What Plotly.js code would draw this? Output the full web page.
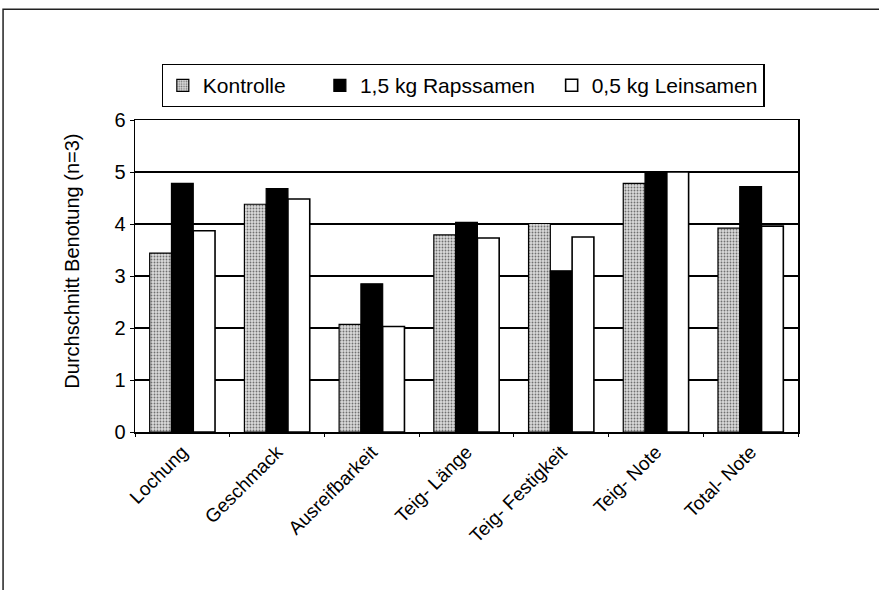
<!DOCTYPE html>
<html>
<head>
<meta charset="utf-8">
<script src="https://cdn.plot.ly/plotly-3.0.1.min.js"></script>
<style>html,body{margin:0;padding:0;background:#fff;}#chart{width:879px;height:590px;}</style>
</head>
<body>
<div id="chart"></div>
<script>
const categories = ["Lochung", "Geschmack", "Ausreifbarkeit", "Teig- Länge", "Teig- Festigkeit", "Teig- Note", "Total- Note"];
const seriesNames = ["Kontrolle", "1,5 kg Rapssamen", "0,5 kg Leinsamen"];
const kontrolle = [3.44, 4.38, 2.07, 3.79, 4.01, 4.78, 3.92];
const rapssamen = [4.78, 4.68, 2.85, 4.03, 3.10, 4.99, 4.72];
const leinsamen = [3.87, 4.48, 2.03, 3.73, 3.75, 5.00, 3.96];
const yTicks = [0, 1, 2, 3, 4, 5, 6];
const yTitle = "Durchschnitt Benotung (n=3)";

const FONT = "Liberation Sans, Arial, sans-serif";
const NB = "\u00a0";
// legend spacing padding (non-breaking spaces) to mimic original item spacing
const legendPad = [NB.repeat(5), NB.repeat(2), ""];

const traces = [
  {
    type: "bar", name: seriesNames[0] + legendPad[0], x: categories, y: kontrolle,
    marker: {
      color: "#c4c4c4",
      pattern: {shape: ".", fgcolor: "#707070", bgcolor: "#dadada", size: 3, solidity: 0.3},
      line: {color: "#000", width: 1.2}
    }
  },
  {
    type: "bar", name: seriesNames[1] + legendPad[1], x: categories, y: rapssamen,
    marker: {color: "#000", line: {color: "#000", width: 1.2}}
  },
  {
    type: "bar", name: seriesNames[2] + legendPad[2], x: categories, y: leinsamen,
    marker: {color: "#fff", line: {color: "#000", width: 1.6}}
  }
];

const layout = {
  width: 879, height: 590,
  margin: {l: 135, r: 81, t: 120, b: 158},
  paper_bgcolor: "#fff", plot_bgcolor: "#fff",
  font: {family: FONT, color: "#000", size: 18},
  barmode: "group", bargap: 0.31, bargroupgap: 0,
  showlegend: true,
  legend: {
    orientation: "h", x: 0.04, y: 1.18, xanchor: "left", yanchor: "top",
    bordercolor: "#000", borderwidth: 1.3, bgcolor: "#fff",
    font: {family: FONT, size: 21, color: "#000"},
    itemwidth: 30, traceorder: "normal"
  },
  xaxis: {
    type: "category", tickangle: -45, showgrid: false,
    showline: true, linecolor: "#000", linewidth: 1.5, mirror: true,
    ticks: "outside", tickson: "boundaries", ticklen: 3, tickcolor: "#000",
    tickfont: {family: FONT, size: 19, color: "#000"}
  },
  yaxis: {
    range: [0, 6], tickvals: yTicks, ticktext: yTicks.map(String),
    showgrid: true, gridcolor: "#000", gridwidth: 1.5,
    showline: true, linecolor: "#000", linewidth: 1.5, mirror: true,
    ticks: "outside", ticklen: 4, tickcolor: "#000", zeroline: false,
    tickfont: {family: FONT, size: 20, color: "#000"}
  },
  annotations: [
    {text: yTitle, xref: "paper", yref: "paper", x: -0.095, y: 0.546, textangle: -90,
     showarrow: false, xanchor: "center", yanchor: "middle",
     font: {family: FONT, size: 20, color: "#000"}}
  ],
  shapes: [
    {type: "rect", xref: "paper", yref: "paper", x0: -0.199, x1: 1.2, y0: -0.7, y1: 1.355,
     line: {color: "#222", width: 1.5}, fillcolor: "rgba(0,0,0,0)", layer: "below"}
  ]
};

Plotly.newPlot("chart", traces, layout, {displayModeBar: false, staticPlot: true});
</script>
</body>
</html>
